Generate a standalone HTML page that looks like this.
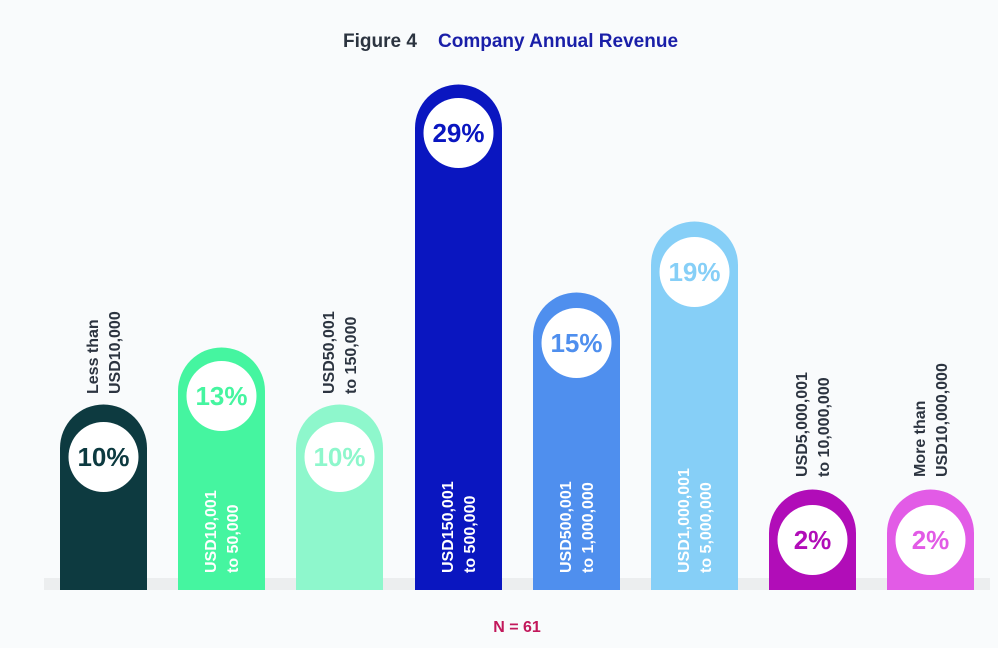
<!DOCTYPE html>
<html><head><style>
body{margin:0;background:#f9fbfc;}
svg{display:block;font-family:"Liberation Sans",sans-serif;font-weight:bold;}
</style></head><body>
<svg width="998" height="648" viewBox="0 0 998 648">
<rect width="998" height="648" fill="#f9fbfc"/>
<text x="343" y="47" font-size="19" fill="#2c3440">Figure 4</text>
<text x="438" y="47" font-size="19" fill="#1a1fa8">Company Annual Revenue</text>
<rect x="44" y="578" width="946" height="12" fill="#eceeef"/>
<g>
<path d="M60 590V448a43.5 43.5 0 0 1 87 0V590Z" fill="#0d3a40"/>
<path d="M178 590V391a43.5 43.5 0 0 1 87 0V590Z" fill="#45f5a0"/>
<path d="M296 590V448a43.5 43.5 0 0 1 87 0V590Z" fill="#8ef7cc"/>
<path d="M415 590V128a43.5 43.5 0 0 1 87 0V590Z" fill="#0a16c0"/>
<path d="M533 590V336a43.5 43.5 0 0 1 87 0V590Z" fill="#4f8fee"/>
<path d="M651 590V265a43.5 43.5 0 0 1 87 0V590Z" fill="#86cff7"/>
<path d="M769 590V533a43.5 43.5 0 0 1 87 0V590Z" fill="#b10db8"/>
<path d="M887 590V533a43.5 43.5 0 0 1 87 0V590Z" fill="#e25be6"/>
</g>
<g fill="#fff">
<circle cx="103.5" cy="457" r="35"/><circle cx="221.5" cy="396" r="35"/>
<circle cx="339.5" cy="457" r="35"/><circle cx="458.5" cy="133" r="35"/>
<circle cx="576.5" cy="343" r="35"/><circle cx="694.5" cy="272" r="35"/>
<circle cx="812.5" cy="540" r="35"/><circle cx="930.5" cy="540" r="35"/>
</g>
<g font-size="26" text-anchor="middle">
<text x="103.5" y="466" fill="#0d3a40">10%</text>
<text x="221.5" y="405" fill="#45f5a0">13%</text>
<text x="339.5" y="466" fill="#8ef7cc">10%</text>
<text x="458.5" y="142" fill="#0a16c0">29%</text>
<text x="576.5" y="352" fill="#4f8fee">15%</text>
<text x="694.5" y="281" fill="#86cff7">19%</text>
<text x="812.5" y="549" fill="#b10db8">2%</text>
<text x="930.5" y="549" fill="#e25be6">2%</text>
</g>
<g font-size="16" fill="#fff">
<text transform="translate(216,573) rotate(-90)">USD10,001</text>
<text transform="translate(238,573) rotate(-90)">to 50,000</text>
<text transform="translate(453,573) rotate(-90)">USD150,001</text>
<text transform="translate(475,573) rotate(-90)">to 500,000</text>
<text transform="translate(571,573) rotate(-90)">USD500,001</text>
<text transform="translate(593,573) rotate(-90)">to 1,000,000</text>
<text transform="translate(689,573) rotate(-90)">USD1,000,001</text>
<text transform="translate(711,573) rotate(-90)">to 5,000,000</text>
</g>
<g font-size="16" fill="#2c3440">
<text transform="translate(98,394) rotate(-90)">Less than</text>
<text transform="translate(120,394) rotate(-90)">USD10,000</text>
<text transform="translate(334,394) rotate(-90)">USD50,001</text>
<text transform="translate(356,394) rotate(-90)">to 150,000</text>
<text transform="translate(807,477) rotate(-90)">USD5,000,001</text>
<text transform="translate(829,477) rotate(-90)">to 10,000,000</text>
<text transform="translate(925,477) rotate(-90)">More than</text>
<text transform="translate(947,477) rotate(-90)">USD10,000,000</text>
</g>
<text x="517" y="632" font-size="16" fill="#c2185b" text-anchor="middle">N = 61</text>
</svg>
</body></html>
